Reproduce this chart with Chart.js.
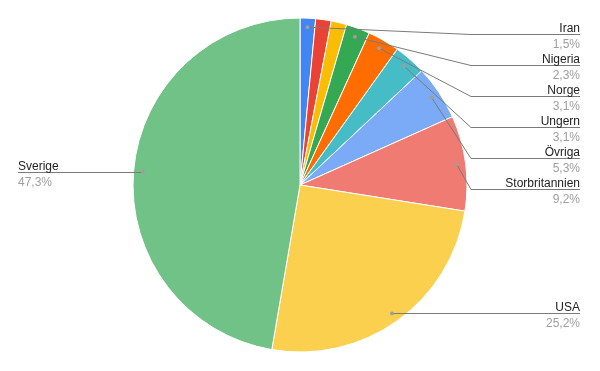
<!DOCTYPE html>
<html>
<head>
<meta charset="utf-8">
<script src="https://cdn.jsdelivr.net/npm/chart.js@4"></script>
<style>
  html, body { margin: 0; padding: 0; background: #fff; }
  #wrap { width: 600px; height: 371px; position: relative; }
</style>
</head>
<body>
<div id="wrap"><canvas id="grafico"></canvas></div>
<script>
// andelar per land (i procent), medurs från toppen
const lander = ["Iran", "", "", "Nigeria", "Norge", "Ungern", "Övriga", "Storbritannien", "USA", "Sverige"];
const andelar = [1.5, 1.5, 1.5, 2.3, 3.1, 3.1, 5.3, 9.2, 25.2, 47.3];
const farger = ["#4285f4", "#ea4335", "#fbbc04", "#34a853", "#ff6d01", "#46bdc6", "#7baaf7", "#f07b72", "#fcd04f", "#71c287"];

const fmt = v => v.toFixed(1).replace(".", ",") + "%";

// etiketter med hjälplinjer (som i Google Sheets)
const etikettPlugin = {
  id: "etiketter",
  afterDraw(chart) {
    const ctx = chart.ctx;
    const arcs = chart.getDatasetMeta(0).data;
    const hoger = [], vanster = [];
    arcs.forEach((arc, i) => {
      if (!lander[i]) return;
      const mid = (arc.startAngle + arc.endAngle) / 2;
      const r = arc.outerRadius * 0.946;
      const p = { i, x: arc.x + Math.cos(mid) * r, y: arc.y + Math.sin(mid) * r };
      (p.x >= arc.x ? hoger : vanster).push(p);
    });

    ctx.save();
    ctx.font = "12px 'Liberation Sans', Arial, sans-serif";
    ctx.lineWidth = 1;

    const rita = (p, ly, bendX, x0, x1, align) => {
      ctx.strokeStyle = "#7a7a7a";
      ctx.beginPath();
      ctx.moveTo(p.x, p.y);
      if (bendX !== null) ctx.lineTo(bendX, ly);
      ctx.lineTo(x0, ly);
      ctx.lineTo(x1, ly);
      ctx.stroke();
      ctx.fillStyle = "#9e9e9e";
      ctx.beginPath();
      ctx.arc(p.x, p.y, 2, 0, Math.PI * 2);
      ctx.fill();
      ctx.textAlign = align;
      const tx = align === "right" ? Math.max(x0, x1) : Math.min(x0, x1);
      ctx.fillStyle = "#222";
      ctx.textBaseline = "alphabetic";
      ctx.fillText(lander[p.i], tx, ly - 3);
      ctx.fillStyle = "#9e9e9e";
      ctx.fillText(fmt(andelar[p.i]), tx, ly + 13);
    };

    hoger.sort((a, b) => a.y - b.y);
    let prev = 3;
    hoger.forEach(p => {
      const ly = Math.max(p.y, prev + 31);
      prev = ly;
      const bx = ly === p.y ? null : 471;
      rita(p, Math.round(ly) + 0.5, bx, bx === null ? p.x : 471, 580, "right");
    });
    vanster.forEach(p => {
      rita(p, Math.round(p.y) + 0.5, null, p.x, 18, "left");
    });
    ctx.restore();
  }
};

new Chart(document.getElementById("grafico"), {
  type: "pie",
  data: {
    labels: lander,
    datasets: [{
      data: andelar,
      backgroundColor: farger,
      borderColor: "#ffffff",
      borderWidth: 1
    }]
  },
  options: {
    responsive: true,
    maintainAspectRatio: false,
    animation: false,
    radius: 167,
    layout: { padding: { left: 133, right: 133, top: 18, bottom: 19 } },
    plugins: {
      legend: { display: false },
      tooltip: { enabled: false }
    }
  },
  plugins: [etikettPlugin]
});
</script>
</body>
</html>
